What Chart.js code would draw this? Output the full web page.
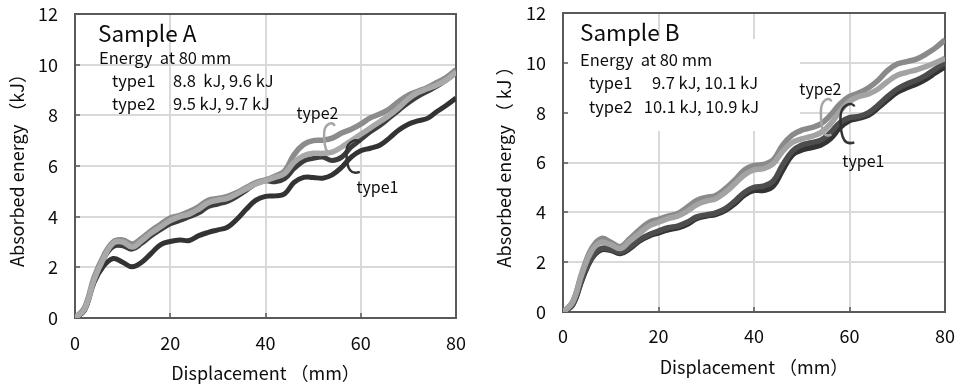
<!DOCTYPE html>
<html>
<head>
<meta charset="utf-8">
<script src="https://cdn.jsdelivr.net/npm/chart.js@4.4.1/dist/chart.umd.min.js"></script>
<style>
  html, body { margin: 0; padding: 0; background: #fff; }
  #wrap { position: relative; width: 968px; height: 389px; }
  canvas { position: absolute; top: 0; }
  #chartA { left: 0; }
  #chartB { left: 484px; }
</style>
</head>
<body>
<div id="wrap">
  <canvas id="chartA" width="484" height="389"></canvas>
  <canvas id="chartB" width="484" height="389"></canvas>
</div>
<script>
// displacement (mm), every 2 mm
const displacement = [0,2,4,6,8,10,12,14,16,18,20,22,24,26,28,30,32,34,36,38,40,
                      42,44,46,48,50,52,54,56,58,60,62,64,66,68,70,72,74,76,78,80];

// Sample A absorbed energy (kJ)
const sampleA_type1_low  = [0,0.3,1.4,2.05,2.35,2.2,2.02,2.2,2.55,2.9,3.02,3.08,3.06,3.25,3.38,3.48,3.58,3.9,4.3,4.65,4.8,
                            4.82,4.9,5.35,5.55,5.55,5.52,5.65,5.95,6.35,6.6,6.7,6.82,7.1,7.42,7.65,7.78,7.88,8.15,8.4,8.68];
const sampleA_type1_high = [0,0.4,1.5,2.35,2.82,2.85,2.72,2.95,3.25,3.5,3.72,3.85,4.0,4.15,4.4,4.5,4.6,4.8,5.05,5.3,5.42,
                            5.38,5.5,5.9,6.2,6.3,6.35,6.22,6.35,6.75,7.05,7.35,7.6,7.9,8.2,8.5,8.75,8.95,9.15,9.4,9.68];
const sampleA_type2_high = [0,0.4,1.6,2.45,3.0,3.08,2.92,3.15,3.45,3.7,3.95,4.05,4.2,4.4,4.65,4.72,4.8,4.95,5.15,5.35,5.45,
                            5.6,5.8,6.45,6.85,7.0,7.02,7.1,7.3,7.45,7.65,7.9,8.05,8.25,8.55,8.8,8.95,9.1,9.3,9.5,9.8];
const sampleA_type2_low  = [0,0.35,1.5,2.35,2.95,3.0,2.8,3.05,3.35,3.6,3.85,4.0,4.1,4.3,4.55,4.65,4.72,4.9,5.1,5.3,5.42,
                            5.55,5.7,6.15,6.4,6.5,6.5,6.55,6.75,7.0,7.25,7.5,7.75,8.0,8.3,8.65,8.9,9.05,9.2,9.4,9.7];

// Sample B absorbed energy (kJ)
const sampleB_type2_high = [0,0.4,1.6,2.55,2.95,2.8,2.62,2.95,3.3,3.6,3.72,3.85,3.95,4.2,4.48,4.6,4.68,4.95,5.3,5.7,5.88,
                            5.92,6.1,6.7,7.1,7.3,7.4,7.55,7.9,8.35,8.65,8.8,9.0,9.3,9.7,9.95,10.05,10.15,10.35,10.6,10.92];
const sampleB_type2_low  = [0,0.38,1.55,2.45,2.8,2.7,2.55,2.85,3.15,3.45,3.6,3.75,3.85,4.05,4.3,4.45,4.55,4.8,5.15,5.5,5.7,
                            5.75,5.95,6.45,6.8,6.95,7.05,7.2,7.55,8.05,8.45,8.65,8.75,8.95,9.25,9.5,9.62,9.72,9.85,10.0,10.18];
const sampleB_type1_high = [0,0.3,1.35,2.2,2.55,2.52,2.4,2.6,2.9,3.1,3.25,3.38,3.45,3.6,3.82,3.9,3.98,4.15,4.45,4.8,5.0,
                            5.05,5.25,5.9,6.45,6.7,6.8,6.9,7.2,7.6,7.8,7.85,8.0,8.3,8.65,8.95,9.15,9.3,9.5,9.75,10.0];
const sampleB_type1_low  = [0,0.28,1.3,2.15,2.5,2.48,2.35,2.55,2.85,3.05,3.18,3.3,3.38,3.52,3.75,3.85,3.92,4.08,4.35,4.7,4.88,
                            4.88,5.05,5.7,6.3,6.5,6.6,6.7,6.95,7.4,7.68,7.78,7.9,8.2,8.52,8.82,9.0,9.15,9.35,9.6,9.84];

const FONT = '"Noto Sans CJK JP", "Noto Sans", sans-serif';
const GRID = '#d9d9d9';
const AXIS = '#595959';
const TEXT = '#0d0d0d';

function series(values, color, width) {
  return {
    data: displacement.map((d, i) => ({ x: d, y: values[i] })),
    borderColor: color,
    borderWidth: width,
    pointRadius: 0,
    tension: 0.4,
    fill: false
  };
}

function bracket(ctx, xl, xr, yt, yb, color) {
  const h = yb - yt;
  ctx.beginPath();
  ctx.moveTo(xr, yt + 3);
  ctx.bezierCurveTo(xr - 1, yt - 2, xl, yt, xl, yt + h * 0.35);
  ctx.bezierCurveTo(xl, yb - h * 0.1, xl + (xr - xl) * 0.4, yb, xr, yb - 3);
  ctx.strokeStyle = color;
  ctx.lineWidth = 2.5;
  ctx.stroke();
}

const decor = {
  id: 'decor',
  beforeDatasetsDraw(chart, args, opts) {
    const { ctx, chartArea: a, scales: { x, y } } = chart;
    ctx.save();
    if (opts.whiteBox) {
      const b = opts.whiteBox;
      ctx.fillStyle = '#fff';
      ctx.fillRect(a.left + b[0], a.top + b[1], b[2], b[3]);
    }
    // short inward tick marks
    ctx.strokeStyle = AXIS;
    ctx.lineWidth = 1.5;
    ctx.beginPath();
    y.ticks.forEach(t => {
      const p = Math.round(y.getPixelForValue(t.value));
      ctx.moveTo(a.left, p); ctx.lineTo(a.left + 5, p);
    });
    x.ticks.forEach(t => {
      const p = Math.round(x.getPixelForValue(t.value));
      ctx.moveTo(p, a.bottom); ctx.lineTo(p, a.bottom - 5);
    });
    ctx.stroke();
    ctx.lineWidth = 2;
    ctx.strokeRect(a.left, a.top, a.right - a.left, a.bottom - a.top);
    ctx.restore();
  },
  afterDraw(chart, args, opts) {
    const { ctx, chartArea: a, scales: { x, y } } = chart;
    ctx.save();
    ctx.fillStyle = TEXT;
    ctx.textBaseline = 'middle';
    opts.texts.forEach(t => {
      ctx.font = t.size + 'px ' + FONT;
      ctx.textAlign = t.align || 'left';
      ctx.fillText(t.t, a.left + t.dx, a.top + t.dy);
    });
    ctx.font = '16px ' + FONT;
    ctx.textAlign = 'left';
    opts.labels.forEach(l => {
      ctx.fillText(l.t, x.getPixelForValue(l.v), y.getPixelForValue(l.e));
    });
    opts.brackets.forEach(b => {
      bracket(ctx, x.getPixelForValue(b.v0), x.getPixelForValue(b.v1),
              y.getPixelForValue(b.e1), y.getPixelForValue(b.e0), b.color);
    });
    ctx.restore();
  }
};

function makeChart(id, datasets, o) {
  return new Chart(document.getElementById(id), {
    type: 'line',
    data: { datasets: datasets },
    plugins: [decor],
    options: {
      responsive: false,
      animation: false,
      layout: { padding: o.padding },
      plugins: {
        legend: { display: false },
        tooltip: { enabled: false },
        decor: o.decor
      },
      scales: {
        x: {
          type: 'linear', min: 0, max: 80,
          ticks: { stepSize: 20, color: TEXT, padding: o.xTickPad, font: { family: FONT, size: 18 } },
          grid: { color: GRID, lineWidth: 2, drawTicks: false },
          border: { display: false },
          title: { display: true, text: 'Displacement （mm）', color: TEXT,
                   font: { family: FONT, size: 18 }, padding: { top: 0, bottom: o.xTitlePad } },
          afterFit: s => { s.height = o.xHeight; }
        },
        y: {
          min: 0, max: 12,
          ticks: { stepSize: 2, color: TEXT, padding: 2, font: { family: FONT, size: 18 } },
          grid: { color: GRID, lineWidth: 2, drawTicks: true, tickLength: 15, tickColor: 'rgba(0,0,0,0)' },
          border: { display: false },
          title: { display: true, text: o.yTitle, color: TEXT,
                   font: { family: FONT, size: 18 }, padding: { top: o.yTitlePad, bottom: 0 } },
          afterFit: s => { s.width = o.yWidth; }
        }
      }
    }
  });
}

makeChart('chartA', [
  series(sampleA_type2_low, '#a9a9a9', 5.5),
  series(sampleA_type2_high, '#8c8c8c', 5.5),
  series(sampleA_type1_high, '#3c3c3c', 5),
  series(sampleA_type1_low, '#333333', 5)
], {
  padding: { left: 0, top: 14, right: 28, bottom: 0 },
  yWidth: 75, xHeight: 71, xTickPad: 14, xTitlePad: 5, yTitlePad: 6,
  yTitle: 'Absorbed energy （kJ）',
  decor: {
    texts: [
      { t: 'Sample A', dx: 23, dy: 19, size: 22.5 },
      { t: 'Energy  at 80 mm', dx: 24, dy: 44, size: 16.5 },
      { t: 'type1', dx: 37, dy: 67, size: 16.5 },
      { t: '8.8  kJ, 9.6 kJ', dx: 98, dy: 67, size: 16.5 },
      { t: 'type2', dx: 37, dy: 90, size: 16.5 },
      { t: '9.5 kJ, 9.7 kJ', dx: 98, dy: 90, size: 16.5 }
    ],
    labels: [
      { t: 'type2', v: 46.5, e: 8.1 },
      { t: 'type1', v: 59.1, e: 5.17 }
    ],
    brackets: [
      { v0: 52.3, v1: 54.5, e0: 6.43, e1: 7.7, color: '#a6a6a6' },
      { v0: 57.0, v1: 59.8, e0: 5.65, e1: 7.03, color: '#333333' }
    ]
  }
});

makeChart('chartB', [
  series(sampleB_type2_low, '#a3a3a3', 5.5),
  series(sampleB_type2_high, '#8a8a8a', 5.5),
  series(sampleB_type1_high, '#4d4d4d', 5.5),
  series(sampleB_type1_low, '#333333', 5.5)
], {
  padding: { left: 0, top: 13, right: 14, bottom: 0 },
  yWidth: 79, xHeight: 77, xTickPad: 13, xTitlePad: 11, yTitlePad: 9,
  yTitle: 'Absorbed energy （ kJ ）',
  decor: {
    whiteBox: [1, 26, 236, 92],
    texts: [
      { t: 'Sample B', dx: 17, dy: 19, size: 22.5 },
      { t: 'Energy  at 80 mm', dx: 17, dy: 47, size: 16.5 },
      { t: 'type1', dx: 26, dy: 70, size: 16.5 },
      { t: '9.7 kJ, 10.1 kJ', dx: 195, dy: 70, size: 16.5, align: 'right' },
      { t: 'type2', dx: 26, dy: 94, size: 16.5 },
      { t: '10.1 kJ, 10.9 kJ', dx: 196, dy: 94, size: 16.5, align: 'right' }
    ],
    labels: [
      { t: 'type2', v: 49.5, e: 8.94 },
      { t: 'type1', v: 58.5, e: 6.05 }
    ],
    brackets: [
      { v0: 54.0, v1: 56.2, e0: 7.0, e1: 8.57, color: '#a6a6a6' },
      { v0: 58.1, v1: 61.0, e0: 6.69, e1: 8.37, color: '#333333' }
    ]
  }
});
</script>
</body>
</html>
